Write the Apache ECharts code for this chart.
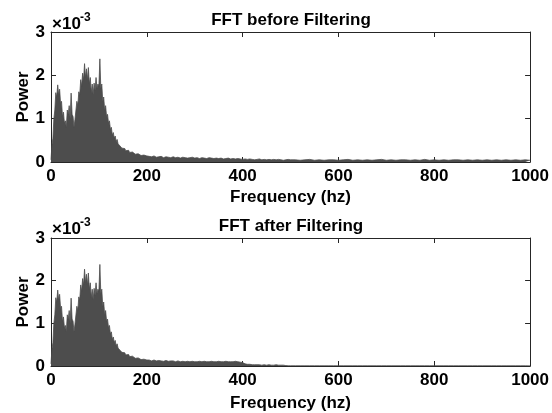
<!DOCTYPE html>
<html>
<head>
<meta charset="utf-8">
<script src="https://cdn.jsdelivr.net/npm/echarts@6/dist/echarts.min.js"></script>
<style>
html,body{margin:0;padding:0;background:#fff;}
#chart{width:552px;height:413px;}
</style>
</head>
<body>
<div id="chart"></div>
<script>
// Frequency samples (Hz)
const freq = [0,2,4,6,8,10,12,14,16,18,20,22,24,26,28,30,32,34,36,38,40,42,44,46,48,50,52,54,56,58,60,62,64,66,68,70,72,74,76,78,80,82,84,86,88,90,92,94,96,98,100,102,104,106,108,110,112,114,116,118,120,122,124,126,128,130,132,134,136,138,140,142,144,146,148,150,152,154,156,158,160,162,164,166,168,170,172,174,176,178,180,182,184,186,188,190,192,194,196,198,200,
205,210,215,220,225,230,235,240,245,250,255,260,265,270,275,280,285,290,295,300,305,310,315,320,325,330,335,340,345,350,355,360,365,370,375,380,385,390,395,400,405,410,415,420,425,430,435,440,445,450,455,460,465,470,475,480,485,490,495,500,
510,520,530,540,550,560,570,580,590,600,610,620,630,640,650,660,670,680,690,700,710,720,730,740,750,760,770,780,790,800,810,820,830,840,850,860,870,880,890,900,910,920,930,940,950,960,970,980,990,1000];

// Power in units of 1e-3, before filtering
const powerBefore = [0.05,0.4,0.55,1.0,1.2,1.6,1.5,1.78,1.55,1.68,
1.35,1.4,1.05,1.15,0.9,0.95,0.8,1.2,1.1,1.3,
1.0,1.59,1.1,1.05,0.8,0.98,1.0,1.4,1.3,1.62,
1.55,1.9,1.75,2.05,1.9,2.27,1.95,2.15,1.9,2.18,
1.8,1.95,1.6,1.8,1.55,1.82,1.65,1.95,1.7,1.8,
1.75,2.38,1.7,1.8,1.4,1.5,1.2,1.3,1.05,1.1,
0.9,0.95,0.75,0.8,0.62,0.68,0.55,0.6,0.47,0.52,
0.42,0.45,0.37,0.4,0.32,0.35,0.28,0.31,0.26,0.29,
0.23,0.27,0.22,0.25,0.21,0.23,0.19,0.22,0.18,0.2,
0.17,0.19,0.16,0.18,0.15,0.17,0.15,0.16,0.14,0.15,
0.14,
0.13,0.12,0.14,0.11,0.12,0.13,0.1,0.12,0.11,0.1,0.12,0.1,0.11,0.09,0.11,0.1,0.09,0.1,0.11,0.09,
0.1,0.08,0.1,0.09,0.08,0.1,0.09,0.08,0.09,0.08,0.09,0.07,0.08,0.09,0.07,0.08,0.07,0.08,0.07,0.06,
0.07,0.06,0.07,0.06,0.05,0.06,0.07,0.05,0.06,0.05,0.06,0.05,0.06,0.05,0.06,0.05,0.04,0.05,0.06,0.05,
0.05,0.04,0.05,0.06,0.04,0.05,0.04,0.05,0.05,0.04,0.05,0.06,0.04,0.05,0.04,0.05,0.04,0.05,0.06,0.04,
0.05,0.04,0.05,0.05,0.04,0.05,0.04,0.06,0.04,0.05,0.04,0.05,0.04,0.05,0.05,0.04,0.05,0.04,0.05,0.04,
0.05,0.04,0.05,0.04,0.05,0.04,0.05,0.04,0.05,0.04];

// Power in units of 1e-3, after filtering
const powerAfter = [0.05,0.4,0.55,1.0,1.2,1.6,1.5,1.78,1.55,1.68,
1.35,1.4,1.05,1.15,0.9,0.95,0.8,1.2,1.1,1.3,
1.0,1.59,1.1,1.05,0.8,0.98,1.0,1.4,1.3,1.62,
1.55,1.9,1.75,2.05,1.9,2.27,1.95,2.15,1.9,2.18,
1.8,1.95,1.6,1.8,1.55,1.82,1.65,1.95,1.7,1.8,
1.75,2.38,1.7,1.8,1.4,1.5,1.2,1.3,1.05,1.1,
0.9,0.95,0.75,0.8,0.62,0.68,0.55,0.6,0.47,0.52,
0.42,0.45,0.37,0.4,0.32,0.35,0.28,0.31,0.26,0.29,
0.23,0.27,0.22,0.25,0.21,0.23,0.19,0.22,0.18,0.2,
0.17,0.19,0.16,0.18,0.15,0.17,0.15,0.16,0.14,0.15,
0.14,
0.14,0.12,0.14,0.12,0.13,0.12,0.11,0.13,0.11,0.12,0.12,0.1,0.12,0.1,0.11,0.1,0.11,0.1,0.11,0.1,
0.1,0.11,0.1,0.11,0.1,0.1,0.11,0.1,0.1,0.11,0.1,0.1,0.11,0.1,0.1,0.1,0.11,0.1,0.09,0.08,
0.05,0.04,0.04,0.03,0.03,0.03,0.03,0.02,0.03,0.02,0.03,0.02,0.02,0.03,0.02,0.02,0.02,0.01,0.005,0.005,
0.005,0.005,0.005,0.005,0.005,0.005,0.005,0.005,0.005,0.005,0.005,0.005,0.005,0.005,0.005,0.005,0.005,0.005,0.005,0.005,
0.005,0.005,0.005,0.005,0.005,0.005,0.005,0.005,0.005,0.005,0.005,0.005,0.005,0.005,0.005,0.005,0.005,0.005,0.005,0.005,
0.005,0.005,0.005,0.005,0.005,0.005,0.005,0.005,0.005,0.005];

const titles = ['FFT before Filtering', 'FFT after Filtering'];
const xName = 'Frequency (hz)';
const yName = 'Power';
const xTicks = {min: 0, max: 1000, interval: 200};
const yTicks = {min: 0, max: 3, interval: 1};

const FONT = 'Liberation Sans, Arial, Helvetica, sans-serif';
const AX = '#262626';
const LINE = '#4d4d4d';
const FS = 17;

const chart = echarts.init(document.getElementById('chart'), null, {renderer: 'canvas'});

const grids = [
  {left: 51, top: 32, width: 480, height: 130},
  {left: 51, top: 238, width: 480, height: 128}
];
const xNameGap = [27, 29];

function xAx(gi, pos) {
  const main = pos === 'bottom';
  return {
    type: 'value', gridIndex: gi, position: pos,
    min: xTicks.min, max: xTicks.max, interval: xTicks.interval,
    name: main ? xName : '', nameLocation: 'middle', nameGap: xNameGap[gi], nameMoveOverlap: false,
    nameTextStyle: {fontFamily: FONT, fontWeight: 'bold', fontSize: FS, color: '#000'},
    axisLine: {show: true, onZero: false, lineStyle: {color: AX, width: 1}},
    axisTick: {show: true, inside: true, length: 5, lineStyle: {color: AX}},
    axisLabel: {show: main, margin: 6, fontFamily: FONT, fontWeight: 'bold', fontSize: FS, color: '#000',
      formatter: v => String(v)},
    splitLine: {show: false}
  };
}
function yAx(gi, pos) {
  const main = pos === 'left';
  return {
    type: 'value', gridIndex: gi, position: pos,
    min: yTicks.min, max: yTicks.max, interval: yTicks.interval,
    name: main ? yName : '', nameLocation: 'middle', nameGap: 19, nameRotate: 90, nameMoveOverlap: false,
    nameTextStyle: {fontFamily: FONT, fontWeight: 'bold', fontSize: FS, color: '#000'},
    axisLine: {show: true, onZero: false, lineStyle: {color: AX, width: 1}},
    axisTick: {show: true, inside: true, length: 5, lineStyle: {color: AX}},
    axisLabel: {show: main, margin: 6, fontFamily: FONT, fontWeight: 'bold', fontSize: FS, color: '#000',
      formatter: v => String(v)},
    splitLine: {show: false}
  };
}

function pairs(ys) { return freq.map((f, i) => [f, ys[i]]); }

function seriesFor(gi, ys) {
  return {
    type: 'line', xAxisIndex: gi * 2, yAxisIndex: gi * 2,
    data: pairs(ys), showSymbol: false, symbol: 'none', silent: true,
    lineStyle: {color: LINE, width: 0.8},
    areaStyle: {color: LINE, opacity: 1, origin: 'start'},
    animation: false
  };
}

const graphics = [];
const titleY = [20, 226];
const expY = [24, 229];
titles.forEach((t, i) => {
  graphics.push({type: 'text', x: 291, y: titleY[i],
    style: {text: t, font: 'bold 17px ' + FONT, fill: '#000', align: 'center', verticalAlign: 'middle'}});
  graphics.push({type: 'text', x: 52, y: expY[i],
    style: {text: '×10', font: 'bold 17px ' + FONT, fill: '#000', align: 'left', verticalAlign: 'middle'}});
  graphics.push({type: 'text', x: 80, y: expY[i] - 6,
    style: {text: '-3', font: 'bold 12px ' + FONT, fill: '#000', align: 'left', verticalAlign: 'middle'}});
});

chart.setOption({
  animation: false,
  backgroundColor: '#fff',
  grid: grids,
  xAxis: [xAx(0, 'bottom'), xAx(0, 'top'), xAx(1, 'bottom'), xAx(1, 'top')],
  yAxis: [yAx(0, 'left'), yAx(0, 'right'), yAx(1, 'left'), yAx(1, 'right')],
  series: [seriesFor(0, powerBefore), seriesFor(1, powerAfter)],
  graphic: graphics
});
</script>
</body>
</html>
